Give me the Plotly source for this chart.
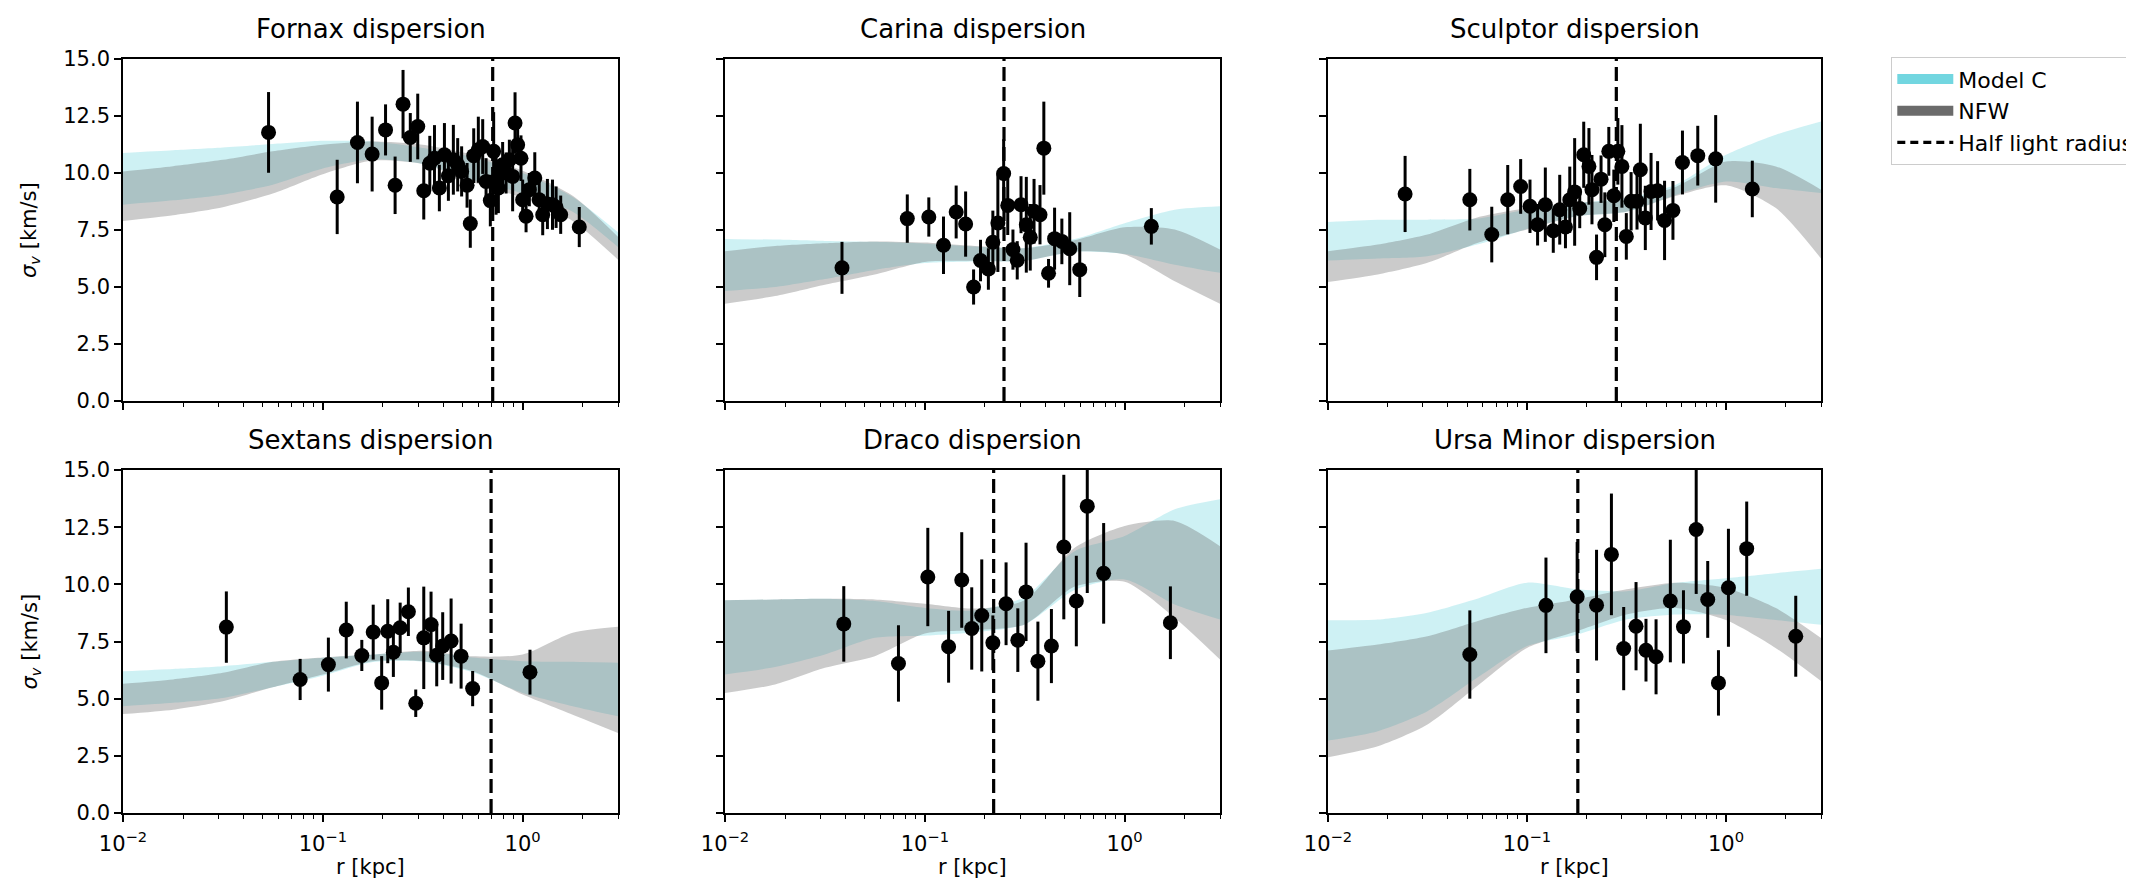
import math
import plotly.graph_objects as go

# ---------------- data ----------------
panel_titles = ["Fornax dispersion", "Carina dispersion", "Sculptor dispersion",
                "Sextans dispersion", "Draco dispersion", "Ursa Minor dispersion"]

# radii at which the model bands were read (kpc)
band_r = [0.01, 0.0178, 0.0316, 0.0562, 0.1, 0.178, 0.316, 0.562, 1.0, 1.78, 3.0]

# Fornax
fornax_r = [0.0535, 0.118, 0.149, 0.1765, 0.206, 0.230, 0.252, 0.274, 0.2985, 0.320, 0.343, 0.362,
            0.383, 0.406, 0.425, 0.45, 0.473, 0.495, 0.527, 0.547, 0.569, 0.600, 0.631, 0.656,
            0.689, 0.716, 0.736, 0.756, 0.794, 0.826, 0.858, 0.891, 0.916, 0.944, 0.981, 1.0,
            1.04, 1.08, 1.15, 1.21, 1.26, 1.33, 1.41, 1.47, 1.55, 1.92]
fornax_sigma = [11.78, 8.95, 11.34, 10.83, 11.89, 9.46, 13.02, 11.56, 12.04, 9.22, 10.43, 10.65,
                9.34, 10.8, 9.88, 10.58, 10.36, 10.07, 9.46, 7.78, 10.76, 11.02, 11.16, 9.63,
                8.79, 10.95, 9.63, 9.34, 10.36, 10.0, 10.58, 9.85, 12.19, 11.24, 10.65, 8.83,
                8.1, 9.27, 9.78, 8.83, 8.17, 8.64, 8.61, 8.5, 8.17, 7.63]
fornax_err = [1.77, 1.63, 1.79, 1.64, 1.12, 1.26, 1.5, 1.07, 1.44, 1.26, 1.2, 1.45,
              1.02, 1.39, 1.1, 1.53, 1.17, 1.1, 0.98, 1.06, 1.2, 1.45, 1.2, 1.02,
              1.13, 1.72, 1.46, 1.1, 1.0, 0.9, 0.88, 1.53, 1.35, 0.84, 1.0, 0.88,
              0.7, 0.73, 1.13, 0.8, 0.9, 1.1, 1.1, 0.91, 0.84, 0.88]
fornax_rh = 0.708
fornax_modelc_hi = [10.88, 11.0, 11.12, 11.27, 11.41, 11.38, 11.1, 10.7, 10.0, 8.95, 7.4]
fornax_modelc_lo = [8.61, 8.8, 9.05, 9.49, 10.2, 10.6, 10.4, 9.7, 9.1, 8.3, 6.75]
fornax_nfw_hi = [10.07, 10.3, 10.58, 10.95, 11.24, 11.38, 11.24, 10.8, 10.1, 9.0, 7.2]
fornax_nfw_lo = [7.9, 8.15, 8.5, 9.1, 9.95, 10.55, 10.4, 9.6, 8.9, 7.9, 6.2]

# Carina
carina_r = [0.0385, 0.0817, 0.1047, 0.124, 0.1435, 0.16, 0.1754, 0.19, 0.208, 0.219, 0.232, 0.248,
            0.26, 0.276, 0.29, 0.303, 0.322, 0.337, 0.352, 0.377, 0.394, 0.416, 0.446, 0.485,
            0.531, 0.596, 1.36]
carina_sigma = [5.84, 8.0, 8.07, 6.83, 8.29, 7.76, 5.0, 6.16, 5.79, 6.96, 7.81, 9.98,
                8.58, 6.64, 6.17, 8.61, 7.73, 7.18, 8.32, 8.17, 11.09, 5.6, 7.12, 7.0,
                6.68, 5.76, 7.66]
carina_err = [1.14, 1.06, 0.86, 1.26, 1.16, 1.43, 0.77, 0.91, 0.91, 1.39, 2.15, 1.5,
              1.3, 0.88, 0.84, 1.25, 2.1, 1.46, 1.42, 1.3, 2.04, 0.63, 1.36, 1.0,
              1.6, 1.2, 0.8]
carina_rh = 0.249
carina_modelc_hi = [7.11, 7.08, 7.02, 6.98, 6.9, 6.78, 6.71, 7.1, 7.8, 8.39, 8.54]
carina_modelc_lo = [4.82, 5.0, 5.35, 5.75, 6.05, 6.12, 6.15, 6.55, 6.45, 5.98, 5.62]
carina_nfw_hi = [6.57, 6.8, 6.92, 7.0, 6.95, 6.8, 6.7, 7.05, 7.62, 7.52, 6.64]
carina_nfw_lo = [4.26, 4.6, 5.1, 5.55, 6.1, 6.15, 6.15, 6.55, 6.42, 5.25, 4.26]

# Sculptor
sculptor_r = [0.0244, 0.0516, 0.0665, 0.08, 0.0929, 0.1035, 0.113, 0.1236, 0.1355, 0.146, 0.156,
              0.164, 0.1735, 0.184, 0.1927, 0.2047, 0.212, 0.2235, 0.2355, 0.246, 0.2576, 0.273,
              0.286, 0.2998, 0.3155, 0.3334, 0.357, 0.371, 0.393, 0.42, 0.453, 0.491, 0.541,
              0.604, 0.721, 0.887, 1.355]
sculptor_sigma = [9.08, 8.83, 7.3, 8.83, 9.41, 8.54, 7.73, 8.61, 7.47, 8.39, 7.63,
                  8.83, 9.17, 8.44, 10.8, 10.29, 9.27, 6.3, 9.73, 7.73, 10.95, 9.0,
                  10.95, 10.29, 7.22, 8.76, 8.76, 10.14, 8.03, 9.19, 9.22, 7.92, 8.36,
                  10.46, 10.76, 10.62, 9.3]
sculptor_err = [1.67, 1.35, 1.22, 1.52, 1.2, 1.17, 0.91, 1.63, 0.97, 1.53, 0.93,
                1.45, 2.36, 0.86, 1.45, 1.68, 1.52, 1.0, 1.04, 1.42, 1.07, 1.15,
                1.46, 1.81, 1.02, 1.28, 1.24, 2.02, 1.41, 1.69, 1.3, 1.74, 1.29,
                1.4, 1.31, 1.92, 1.24]
sculptor_rh = 0.281
sculptor_modelc_hi = [7.85, 7.95, 7.95, 8.0, 8.4, 8.68, 8.9, 9.5, 10.8, 11.68, 12.26]
sculptor_modelc_lo = [6.16, 6.25, 6.35, 6.86, 7.55, 8.1, 8.3, 9.05, 9.63, 9.34, 9.12]
sculptor_nfw_hi = [6.57, 6.86, 7.3, 8.05, 8.46, 8.7, 8.83, 9.4, 10.5, 10.29, 9.27]
sculptor_nfw_lo = [5.22, 5.55, 6.06, 6.93, 7.52, 8.1, 8.3, 9.0, 9.46, 8.46, 6.25]

# Sextans
sextans_r = [0.0329, 0.077, 0.1066, 0.131, 0.1567, 0.1787, 0.197, 0.2113, 0.2254, 0.2438,
             0.268, 0.2917, 0.32, 0.348, 0.3715, 0.398, 0.4385, 0.492, 0.562, 1.088]
sextans_sigma = [8.13, 5.84, 6.49, 8.0, 6.89, 7.91, 5.69, 7.95, 7.03, 8.1,
                 8.8, 4.8, 7.66, 8.24, 6.9, 7.3, 7.52, 6.86, 5.44, 6.16]
sextans_err = [1.56, 0.9, 1.18, 1.24, 0.68, 1.2, 1.17, 1.4, 1.08, 1.1,
               1.06, 0.6, 2.24, 1.44, 1.36, 1.48, 1.86, 1.42, 0.77, 0.98]
sextans_rh = 0.695
sextans_modelc_hi = [6.2, 6.3, 6.42, 6.61, 6.79, 6.93, 7.05, 6.8, 6.64, 6.61, 6.57]
sextans_modelc_lo = [4.67, 4.82, 5.03, 5.5, 6.0, 6.6, 6.62, 6.15, 5.25, 4.67, 4.23]
sextans_nfw_hi = [5.65, 5.84, 6.13, 6.61, 6.8, 6.93, 7.1, 6.85, 6.93, 7.88, 8.14]
sextans_nfw_lo = [4.33, 4.52, 4.89, 5.5, 6.06, 6.64, 6.64, 6.2, 5.18, 4.3, 3.5]

# Draco
draco_r = [0.0393, 0.0738, 0.1035, 0.1315, 0.153, 0.1717, 0.1927, 0.219, 0.255, 0.292,
           0.321, 0.368, 0.43, 0.496, 0.573, 0.65, 0.785, 1.694]
draco_sigma = [8.27, 6.54, 10.32, 7.27, 10.19, 8.07, 8.64, 7.44, 9.15, 7.56,
               9.67, 6.64, 7.3, 11.63, 9.27, 13.42, 10.48, 8.32]
draco_err = [1.65, 1.67, 2.15, 1.57, 2.09, 1.8, 2.45, 1.2, 1.81, 1.39,
             2.15, 1.73, 1.62, 3.16, 1.98, 3.8, 2.2, 1.59]
draco_rh = 0.221
draco_modelc_hi = [9.3, 9.34, 9.37, 9.27, 8.97, 8.86, 9.45, 11.45, 12.11, 13.28, 13.72]
draco_modelc_lo = [6.06, 6.38, 6.93, 7.66, 7.75, 7.9, 8.24, 9.75, 10.21, 9.12, 8.46]
draco_nfw_hi = [9.3, 9.34, 9.37, 9.34, 9.15, 8.94, 9.3, 11.6, 12.55, 12.77, 11.67]
draco_nfw_lo = [5.25, 5.62, 6.35, 6.86, 7.85, 8.0, 8.24, 9.9, 10.11, 8.54, 6.71]

# Ursa Minor
umi_r = [0.0516, 0.1245, 0.1786, 0.2235, 0.2655, 0.306, 0.353, 0.396, 0.445, 0.525,
         0.611, 0.708, 0.809, 0.916, 1.028, 1.27, 2.24]
umi_sigma = [6.93, 9.08, 9.46, 9.09, 11.31, 7.19, 8.17, 7.12, 6.83, 9.27,
             8.14, 12.4, 9.34, 5.69, 9.85, 11.56, 7.73]
umi_err = [1.93, 2.09, 2.39, 2.42, 2.66, 1.82, 1.93, 1.37, 1.64, 2.68,
           1.6, 2.82, 1.68, 1.43, 2.58, 2.06, 1.77]
umi_rh = 0.18
umi_modelc_hi = [8.43, 8.46, 8.76, 9.37, 10.07, 9.78, 9.7, 10.07, 10.27, 10.49, 10.68]
umi_modelc_lo = [3.17, 3.58, 4.45, 5.91, 7.3, 7.8, 8.46, 8.68, 8.66, 8.44, 8.23]
umi_nfw_hi = [7.11, 7.37, 7.73, 8.39, 8.97, 9.34, 9.78, 10.07, 9.84, 8.96, 7.65]
umi_nfw_lo = [2.44, 2.92, 3.87, 5.55, 7.22, 7.95, 8.68, 8.97, 8.44, 7.21, 5.77]

y_ticks = [0.0, 2.5, 5.0, 7.5, 10.0, 12.5, 15.0]
x_ticks = [0.01, 0.1, 1.0]
x_ticktext = ["10<sup>\u22122</sup>", "10<sup>\u22121</sup>", "10<sup>0</sup>"]
x_minor = [m * d for d in (0.01, 0.1, 1.0) for m in range(2, 10) if m * d <= 3.0]

legend_labels = ["Model C", "NFW", "Half light radius"]

panels = [
    (fornax_r, fornax_sigma, fornax_err, fornax_rh, fornax_modelc_hi, fornax_modelc_lo, fornax_nfw_hi, fornax_nfw_lo),
    (carina_r, carina_sigma, carina_err, carina_rh, carina_modelc_hi, carina_modelc_lo, carina_nfw_hi, carina_nfw_lo),
    (sculptor_r, sculptor_sigma, sculptor_err, sculptor_rh, sculptor_modelc_hi, sculptor_modelc_lo, sculptor_nfw_hi, sculptor_nfw_lo),
    (sextans_r, sextans_sigma, sextans_err, sextans_rh, sextans_modelc_hi, sextans_modelc_lo, sextans_nfw_hi, sextans_nfw_lo),
    (draco_r, draco_sigma, draco_err, draco_rh, draco_modelc_hi, draco_modelc_lo, draco_nfw_hi, draco_nfw_lo),
    (umi_r, umi_sigma, umi_err, umi_rh, umi_modelc_hi, umi_modelc_lo, umi_nfw_hi, umi_nfw_lo),
]

# ---------------- styling / layout ----------------
W, H = 2134, 881
FONT = "DejaVu Sans"
TICK_SIZE = 21
LABEL_SIZE = 21
TITLE_SIZE = 26
MC_COLOR = "#72d6e0"
NFW_COLOR = "#6b6b6b"
MC_FILL = "rgba(114,214,224,0.35)"
NFW_FILL = "rgba(107,107,107,0.35)"
BAND_LINE = dict(width=0, shape="spline", smoothing=0.7)

col_px = [(115, 610), (717, 1212), (1320, 1813)]
row_px = [(51, 393), (462, 805)]

fig = go.Figure()
layout = dict(width=W, height=H, margin=dict(l=0, r=0, t=0, b=0, autoexpand=False),
              paper_bgcolor="white", plot_bgcolor="white",
              font=dict(family=FONT, size=20, color="black"), showlegend=True)
annotations = []

for i, (r, s, e, rh, mch, mcl, nh, nl) in enumerate(panels):
    row, col = divmod(i, 3)
    k = i + 1
    xa = "x" if k == 1 else f"x{k}"
    ya = "y" if k == 1 else f"y{k}"
    x0, x1 = col_px[col]
    y0, y1 = row_px[row]
    xdom = [x0 / W, x1 / W]
    ydom = [1 - y1 / H, 1 - y0 / H]

    # Model C band
    fig.add_trace(go.Scatter(x=band_r, y=mch, mode="lines", line=BAND_LINE,
                             xaxis=xa, yaxis=ya, showlegend=False, hoverinfo="skip"))
    fig.add_trace(go.Scatter(x=band_r, y=mcl, mode="lines", line=BAND_LINE,
                             fill="tonexty", fillcolor=MC_FILL,
                             xaxis=xa, yaxis=ya, showlegend=False, hoverinfo="skip"))
    # NFW band
    fig.add_trace(go.Scatter(x=band_r, y=nh, mode="lines", line=BAND_LINE,
                             xaxis=xa, yaxis=ya, showlegend=False, hoverinfo="skip"))
    fig.add_trace(go.Scatter(x=band_r, y=nl, mode="lines", line=BAND_LINE,
                             fill="tonexty", fillcolor=NFW_FILL,
                             xaxis=xa, yaxis=ya, showlegend=False, hoverinfo="skip"))
    # half light radius
    fig.add_trace(go.Scatter(x=[rh, rh], y=[y_ticks[0], y_ticks[-1]], mode="lines",
                             line=dict(color="black", width=3.2, dash="14px,6px"),
                             xaxis=xa, yaxis=ya, showlegend=False, hoverinfo="skip"))
    # data
    fig.add_trace(go.Scatter(x=r, y=s, mode="markers",
                             marker=dict(color="black", size=15),
                             error_y=dict(type="data", array=e, visible=True,
                                          thickness=3, width=0, color="black"),
                             xaxis=xa, yaxis=ya, showlegend=False))

    axis_common = dict(showline=True, linecolor="black", linewidth=1.6, mirror=True,
                       ticks="outside", ticklen=7, tickwidth=1.6, tickcolor="black",
                       showgrid=False, zeroline=False,
                       tickfont=dict(family=FONT, size=TICK_SIZE, color="black"))
    xkey = "xaxis" if k == 1 else f"xaxis{k}"
    ykey = "yaxis" if k == 1 else f"yaxis{k}"
    layout[xkey] = dict(axis_common, type="log", range=[math.log10(0.01), math.log10(3.0)],
                        domain=xdom, anchor=ya, tickmode="array", tickvals=x_ticks,
                        ticktext=x_ticktext, showticklabels=(row == 1), ticklabelstandoff=4,
                        minor=dict(ticks="outside", ticklen=4, tickwidth=1.2,
                                   tickcolor="black", tickvals=x_minor, showgrid=False))
    layout[ykey] = dict(axis_common, range=[y_ticks[0], y_ticks[-1]], domain=ydom, anchor=xa,
                        tickmode="array", tickvals=y_ticks,
                        ticktext=[f"{v:.1f}" for v in y_ticks], showticklabels=(col == 0))

    # title
    annotations.append(dict(text=panel_titles[i], xref="paper", yref="paper",
                            x=(x0 + x1) / 2 / W, y=1 - (y0 - 13) / H,
                            xanchor="center", yanchor="bottom", showarrow=False,
                            font=dict(family=FONT, size=TITLE_SIZE, color="black")))
    if row == 1:
        annotations.append(dict(text="r [kpc]", xref="paper", yref="paper",
                                x=(x0 + x1) / 2 / W, y=1 - 859 / H,
                                xanchor="center", yanchor="middle", showarrow=False,
                                font=dict(family=FONT, size=LABEL_SIZE, color="black")))
    if col == 0:
        annotations.append(dict(text="<i>\u03c3<sub>v</sub></i> [km/s]", xref="paper", yref="paper",
                                x=22 / W, y=1 - (y0 + y1) / 2 / H, textangle=-90,
                                xanchor="center", yanchor="middle", showarrow=False,
                                font=dict(family=FONT, size=LABEL_SIZE, color="black")))

# legend entries
fig.add_trace(go.Scatter(x=[None], y=[None], mode="lines", name=legend_labels[0],
                         line=dict(color=MC_COLOR, width=11)))
fig.add_trace(go.Scatter(x=[None], y=[None], mode="lines", name=legend_labels[1],
                         line=dict(color=NFW_COLOR, width=11)))
fig.add_trace(go.Scatter(x=[None], y=[None], mode="lines", name=legend_labels[2],
                         line=dict(color="black", width=3.2, dash="8px,5px")))

layout["legend"] = dict(x=1883 / W, y=1 - 49 / H, xanchor="left", yanchor="top",
                        bgcolor="white", bordercolor="#cccccc", borderwidth=1.3,
                        font=dict(family=FONT, size=22, color="black"),
                        itemwidth=56, tracegroupgap=0, traceorder="normal")
layout["annotations"] = annotations
fig.update_layout(**layout)
fig.write_html("out.html")
